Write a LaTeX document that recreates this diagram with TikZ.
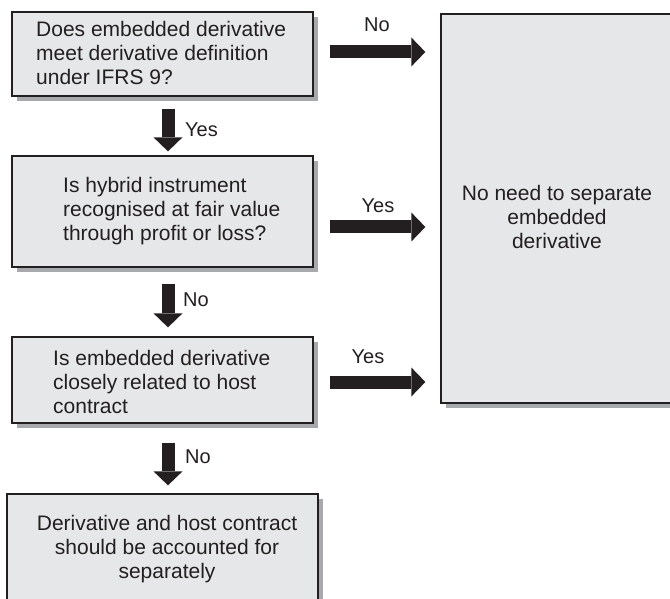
\documentclass[tikz,border=0pt]{standalone}
\usepackage{fontspec}
\setmainfont{Liberation Sans}
\usetikzlibrary{arrows.meta,shadows}
\definecolor{boxfill}{HTML}{E6E7E8}
\definecolor{shadowgray}{HTML}{A7A9AC}
\definecolor{ink}{HTML}{231F20}
\begin{document}
\begin{tikzpicture}[x=1pt,y=-1pt,
  box/.style={draw=ink, line width=1.3pt, fill=boxfill, inner sep=0pt,
    drop shadow={shadow xshift=5pt, shadow yshift=-5pt, fill=shadowgray, opacity=1, draw=none}},
  txt/.style={text=ink, font=\fontsize{21}{24}\selectfont, inner sep=0pt},
  lbl/.style={text=ink, font=\fontsize{20}{24}\selectfont, inner sep=0pt},
  bigarrow/.style={draw=ink, line width=13pt, line cap=butt,
    -{Triangle[width=29pt,length=14pt,line width=0pt]}}]
\useasboundingbox (0,0) rectangle (670,599);

% boxes
\node[box, minimum width=301pt, minimum height=84pt] (b1) at (162.5,54) {};
\node[box, minimum width=301pt, minimum height=111pt] (b2) at (162.5,211.5) {};
\node[box, minimum width=301pt, minimum height=86pt] (b3) at (162.5,380) {};
\node[box, minimum width=311pt, minimum height=111pt] (b4) at (162.5,549.5) {};
\node[box, minimum width=245pt, minimum height=389pt] (r) at (563.5,208.5) {};

% texts
\node[txt, align=left, anchor=west] (t1) at (36,52.5) {Does embedded derivative\\meet derivative definition\\under IFRS 9?};
\node[txt, align=left, anchor=west] (t2) at (63,211.5) {Is hybrid instrument\\recognised at fair value\\through profit or loss?};
\node[txt, align=left, anchor=west] (t3) at (53,381.5) {Is embedded derivative\\closely related to host\\contract};
\node[txt, align=center] (t4) at (167,549.5) {Derivative and host contract\\should be accounted for\\separately};
\node[txt, align=center] (rt) at (557,216.5) {No need to separate\\embedded\\derivative};

% horizontal arrows
\coordinate (h1s) at ([xshift=16pt,yshift=2pt]b1.east);
\coordinate (h1e) at ([xshift=-15pt]h1s -| r.west);
\draw[bigarrow] (h1s) -- (h1e);
\coordinate (h2s) at ([xshift=16pt,yshift=-15.5pt]b2.east);
\coordinate (h2e) at ([xshift=-15pt]h2s -| r.west);
\draw[bigarrow] (h2s) -- (h2e);
\coordinate (h3s) at ([xshift=16pt,yshift=-2pt]b3.east);
\coordinate (h3e) at ([xshift=-15pt]h3s -| r.west);
\draw[bigarrow] (h3s) -- (h3e);

% vertical arrows
\coordinate (v1s) at ([xshift=5.5pt,yshift=-12pt]b1.south);
\coordinate (v1e) at ([xshift=5.5pt,yshift=4pt]b2.north);
\draw[bigarrow] (v1s) -- (v1e);
\coordinate (v2s) at ([xshift=5.5pt,yshift=-16pt]b2.south);
\coordinate (v2e) at ([xshift=5.5pt,yshift=9pt]b3.north);
\draw[bigarrow] (v2s) -- (v2e);
\coordinate (v3s) at ([xshift=5.5pt,yshift=-19pt]b3.south);
\coordinate (v3e) at ([xshift=5.5pt,yshift=8pt]b4.north);
\draw[bigarrow] (v3s) -- (v3e);

% labels
\node[lbl] (l1) at (377,25) {No};
\node[lbl] (l2) at (378,206) {Yes};
\node[lbl] (l3) at (368,357) {Yes};
\node[lbl, anchor=west] (l4) at (185,130) {Yes};
\node[lbl, anchor=west] (l5) at (183,300) {No};
\node[lbl, anchor=west] (l6) at (185,457) {No};
\end{tikzpicture}
\end{document}
